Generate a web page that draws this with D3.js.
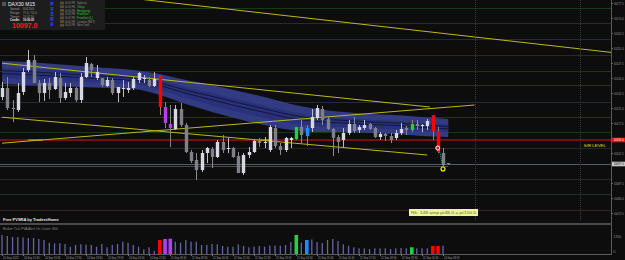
<!DOCTYPE html>
<html><head><meta charset="utf-8">
<script src="https://cdn.jsdelivr.net/npm/d3@7"></script>
<style>html,body{margin:0;padding:0;background:#0d0d0d;overflow:hidden}svg{display:block}text{font-family:"Liberation Sans",Arial,sans-serif}</style>
</head><body>
<svg id="c" width="625" height="260"></svg>
<script>
// ---------------- DATA ----------------
const opens = [10130.5,10135,10125,10124,10133,10144,10149,10137.5,10132.5,10137.5,
 10134.5,10140,10130,10132.5,10135,10129,10140.5,10147,10140,10140,
 10136,10139,10132.5,10134.5,10134,10135,10139,10139.5,10139,10136,
 10141.5,10125.5,10117,10114.5,10124.5,10116.5,10103,10099,10094,10102.5,
 10104.5,10100.5,10108,10104.5,10105,10101,10092.5,10101.5,10103,10108.5,
 10107.5,10104,10115,10106,10104,10109,10109.5,10115.5,10111,10115,
 10120,10124.5,10119.5,10114.5,10110.5,10109,10112.5,10117,10114,10115,
 10117,10115,10110.5,10112,10111,10110,10112.5,10115,10114,10117,
 10116,10116,10121.5,10113.5,10102.5,10097.5];
const highs = [10138,10140.5,10129,10137.5,10145,10154,10151.5,10139,10139.5,10140,
 10143,10142.5,10137.5,10137.5,10135.5,10142.5,10150.5,10147.5,10146.5,10140,
 10140.5,10140,10135.5,10139,10138,10140.5,10143,10141.5,10140.5,10143,
 10141.5,10128,10126.5,10126.5,10127.5,10117.5,10104,10102.5,10104,10105.5,
 10105.5,10109,10111.5,10110,10105.5,10103,10102.5,10105.5,10109,10110,
 10110.5,10116.5,10116.5,10107.5,10110.5,10110.5,10115.5,10119,10116.5,10124.5,
 10126.5,10126,10120.5,10115,10111.5,10115,10119,10120.5,10116.5,10119,
 10117.5,10115.5,10113,10112.5,10112.5,10114,10117.5,10116,10119,10119,
 10117,10119.5,10121.5,10115.5,10105,10097.5];
const lows = [10129,10124,10118,10123,10131.5,10143,10137.5,10128,10128.5,10129.5,
 10134,10127.5,10129,10130.5,10128,10127.5,10140,10140.5,10139,10135.5,
 10135.5,10131.5,10128,10130.5,10132.5,10134,10137.5,10137.5,10135.5,10135.5,
 10121.5,10115,10105.5,10114,10115.5,10102.5,10097.5,10089,10093,10097.5,
 10095,10100,10102.5,10102.5,10100,10092.5,10091.5,10100,10102.5,10105.5,
 10105,10103,10105,10101.5,10103,10105,10109,10107.5,10106,10113,
 10119,10116.5,10114,10101,10102.5,10105.5,10111.5,10112.5,10112.5,10114,
 10114,10110,10109,10108.5,10107.5,10109,10111.5,10111.5,10113,10114,
 10113,10114,10109,10102.5,10096,10096.5];
const closes = [10135,10125,10124.5,10132.5,10143,10149,10137.5,10132.5,10137.5,10134,
 10140.5,10130,10133,10135,10129,10140.5,10147.5,10144,10143,10136.5,
 10139,10132.5,10135.5,10135,10135,10139.5,10142.5,10140,10136,10139.5,
 10125.5,10117.5,10115,10124.5,10116.5,10103,10098.5,10094,10102.5,10105,
 10100.5,10108,10104,10105,10100.5,10092.5,10101.5,10103,10108.5,10107.5,
 10108,10115.5,10106,10104,10110,10110,10115.5,10111.5,10115,10120.5,
 10125,10119,10114.5,10110,10108,10112.5,10117,10113.5,10115.5,10116.5,
 10114.5,10110.5,10112,10111,10109,10112.5,10114.5,10114,10117,10116,
 10116.5,10118.5,10113.5,10103,10096.5,10097];
const volumes = [1900,1800,1700,1700,1650,1600,1600,1500,1400,1130,
 1070,1070,1000,730,900,970,930,900,730,1000,
 670,900,1000,1230,1130,900,730,470,670,300,
 1400,1500,1530,1230,1130,1400,1230,1230,900,900,
 1000,970,800,730,730,970,800,670,730,800,
 730,830,830,830,900,1200,1900,1130,1400,1450,
 1200,1100,1400,1500,1300,970,830,670,570,570,
 500,570,570,570,500,570,600,570,670,570,
 570,570,800,800,830,0];
// PVSRA candle classes (bar indices)
const climaxBear = [30,82,83];
const aboveAvgBear = [31,32];
const climaxBull = [56,78];
const aboveAvgBull = [58];
// Volume-weighted band (sampled every 5 bars)
const bandBars  = [0,5,10,15,20,25,30,35,40,45,50,55,60,65,70,75,80,85];
const bandUpper = [10148.5,10148,10147,10146,10145,10144,10142,10139,10136.5,10133.5,10130.5,10127,10124.5,10123,10122,10121.5,10120.5,10119.5];
const bandLower = [10137,10136.5,10136,10135.5,10135,10134.5,10131.5,10127,10123,10119.5,10116.5,10114,10113,10113,10112.5,10112,10111,10110.5];
// Trend lines: [bar1, price1, bar2, price2]
const trendLines = [
  [0,10187.2,116.2,10152.75],
  [0,10147.4,81.5,10125.5],
  [0,10107.4,90,10126.5],
  [0,10120.4,81,10101.5]
];
// Horizontal levels
const levelPrices = [10175,10167.5,10159.5,10151.5,10143.5,10136.5,10128,10120.5,10113,10105,10089.5,10082,10074];
const levelColors = ["#143a14","#2c2c26","#212b3b","#33271a","#143a14","#2f2f1a","#212b3b","#2f2f1a","#143a14","#262626","#262626","#143a14","#33271a"];
const srLevel = 10109;
const bidPrice = 10097.25;
const askLine = 10096;
const currentPrice = 10097.0;
const srHighlights = [[5,7.8],[49,51]];
// Axis ticks
const priceTicks = [10072.5,10080,10087.5,10095,10102.5,10110,10117.5,10125,10132.5,10140,10147.5,10155,10162.5,10170,10177.5];
const timeTickBars = [0,4,8,12,16,20,24,28,32,36,40,44,48,52,56,60,64,68,72,76,80,84];
const timeTickLabels = ["10 Sep 2015","10 Sep 15:30","10 Sep 16:30","10 Sep 17:30","10 Sep 18:30","10 Sep 19:30","10 Sep 20:30","10 Sep 21:30",
 "11 Sep 08:30","11 Sep 09:30","11 Sep 10:30","11 Sep 11:30","11 Sep 12:30","11 Sep 13:30","11 Sep 14:30","11 Sep 15:30",
 "11 Sep 16:30","11 Sep 17:30","11 Sep 18:30","11 Sep 19:30","11 Sep 20:30","14 Sep 08:30"];
// Info panel
const sessionNames = ["Sydney","Tokyo","Hongkong","Frankfurt","Frankfurt (L)","London (BST)","New York"];
const sessionOpen = [false,true,true,true,true,false,false];
const sessionTimes = ["06:45 PM","06:45 PM","06:45 PM","06:45 PM","06:45 PM","06:45 PM","06:45 PM"];
const infoLabels = ["Spread:","Range:","Timer:","Candle:"];
const infoValues = ["04.50","71.5 / 51.0","10:02.36","10:00:25"];

// ---------------- DRAW ----------------
const svg = d3.select("#c");
const y = d3.scaleLinear().domain([10068,10179]).range([222,0]);
const x = d3.scaleLinear().domain([0,85]).range([2,448.25]);
const vy = d3.scaleLinear().domain([0,2400]).range([254,230]);
const RIGHT = 611;
const fmt = d3.format(".1f");

svg.append("rect").attr("width",625).attr("height",260).attr("fill","#0d0d0d");
svg.append("defs").append("clipPath").attr("id","pc").append("rect").attr("x",0).attr("y",0).attr("width",RIGHT).attr("height",222);
const g = svg.append("g").attr("clip-path","url(#pc)");

// levels
g.selectAll("line.lvl").data(levelPrices).join("line").attr("class","lvl")
  .attr("x1",0).attr("x2",RIGHT).attr("y1",d=>Math.round(y(d))+0.5).attr("y2",d=>Math.round(y(d))+0.5)
  .attr("stroke",(d,i)=>levelColors[i]).attr("stroke-width",1);

// vertical dotted
[475,580].forEach(px=>{
  svg.append("line").attr("x1",px+0.5).attr("x2",px+0.5).attr("y1",0).attr("y2",222)
    .attr("stroke","#3a3a3a").attr("stroke-dasharray","1,1");
});

// band
const bandData = bandBars.map((b,i)=>({b,u:bandUpper[i],l:bandLower[i]}));
g.append("path").datum(bandData)
  .attr("d",d3.area().x(d=>x(d.b)).y0(d=>y(d.l)).y1(d=>y(d.u)).curve(d3.curveMonotoneX))
  .attr("fill","#36408f").attr("opacity",0.9);
g.append("path").datum(bandData)
  .attr("d",d3.area().x(d=>x(d.b)).y0(d=>y(d.l+(d.u-d.l)*0.25)).y1(d=>y(d.u-(d.u-d.l)*0.3)).curve(d3.curveMonotoneX))
  .attr("fill","#283078").attr("opacity",0.95);
[0.42,0.55].forEach(f=>{
  g.append("path").datum(bandData)
    .attr("d",d3.line().x(d=>x(d.b)).y(d=>y(d.u-(d.u-d.l)*f)).curve(d3.curveMonotoneX))
    .attr("fill","none").attr("stroke","#12163a").attr("stroke-width",1);
});

// S/R level
g.append("line").attr("x1",0).attr("x2",RIGHT).attr("y1",y(srLevel)).attr("y2",y(srLevel))
  .attr("stroke","#9a1212").attr("stroke-width",1.6);
g.selectAll("line.srh").data(srHighlights).join("line").attr("class","srh")
  .attr("x1",d=>x(d[0])).attr("x2",d=>x(d[1])).attr("y1",y(srLevel)).attr("y2",y(srLevel))
  .attr("stroke","#c87010").attr("stroke-width",1.6);

// bid/ask lines
g.append("line").attr("x1",0).attr("x2",RIGHT).attr("y1",Math.round(y(bidPrice))+0.5).attr("y2",Math.round(y(bidPrice))+0.5)
  .attr("stroke","#535a6a").attr("stroke-width",1);
g.append("line").attr("x1",0).attr("x2",x(85)).attr("y1",Math.round(y(askLine))+0.5).attr("y2",Math.round(y(askLine))+0.5)
  .attr("stroke","#4a4a4a").attr("stroke-width",1);

// trend lines
g.selectAll("line.tl").data(trendLines).join("line").attr("class","tl")
  .attr("x1",d=>x(d[0])).attr("y1",d=>y(d[1])).attr("x2",d=>x(d[2])).attr("y2",d=>y(d[3]))
  .attr("stroke","#bcb81c").attr("stroke-width",1);

// candles
const bars = opens.map((o,i)=>({i,o,h:highs[i],l:lows[i],c:closes[i]}));
const isCol = i => climaxBear.includes(i)||aboveAvgBear.includes(i)||climaxBull.includes(i)||aboveAvgBull.includes(i);
function bodyColor(d){
  if (climaxBear.includes(d.i)) return "#ff0000";
  if (aboveAvgBear.includes(d.i)) return "#b040f0";
  if (climaxBull.includes(d.i)) return "#22d040";
  if (aboveAvgBull.includes(d.i)) return "#1e8cff";
  return d.c>=d.o ? "#d8d8e2" : "#808088";
}
function wickColor(d){
  if (isCol(d.i)) return "#858585";
  return d.c>=d.o ? "#bcbcc4" : "#8c8c90";
}
const cg = g.append("g");
cg.selectAll("line.wk").data(bars).join("line").attr("class","wk")
  .attr("x1",d=>Math.round(x(d.i))+0.5).attr("x2",d=>Math.round(x(d.i))+0.5)
  .attr("y1",d=>y(d.h)).attr("y2",d=>y(d.l)).attr("stroke",wickColor).attr("stroke-width",1);
cg.selectAll("rect.bd").data(bars).join("rect").attr("class","bd")
  .attr("x",d=>Math.round(x(d.i))-1.2).attr("width",3.4)
  .attr("y",d=>y(Math.max(d.o,d.c))).attr("height",d=>Math.max(1,Math.abs(y(d.o)-y(d.c))))
  .attr("fill",bodyColor);

// markers at last bars
g.append("line").attr("x1",x(83.3)).attr("y1",y(10104)).attr("x2",x(84)).attr("y2",y(10095.5))
  .attr("stroke","#3fb7c0").attr("stroke-dasharray","1,1");
g.append("circle").attr("cx",x(83)).attr("cy",y(10105)).attr("r",2).attr("fill","#d02020").attr("stroke","#ffffff").attr("stroke-width",1);
g.append("circle").attr("cx",x(84)).attr("cy",y(10094.5)).attr("r",2).attr("fill","none").attr("stroke","#ffff00").attr("stroke-width",1.1);

// S/R LEVEL text
svg.append("text").attr("x",606).attr("y",y(srLevel)+7).attr("text-anchor","end")
  .attr("font-size",4.4).attr("fill","#e0e000").text("S/R LEVEL");

// tooltip box
svg.append("rect").attr("x",409).attr("y",209).attr("width",69).attr("height",7).attr("fill","#f4f0a0");
svg.append("text").attr("x",411).attr("y",214.2).attr("font-size",3.6).attr("fill","#3a7a3a")
  .attr("textLength",65).attr("lengthAdjust","spacingAndGlyphs")
  .text("Rk: 148 amp pt48.0 = pt150.0");

// price axis
svg.append("line").attr("x1",RIGHT+0.5).attr("x2",RIGHT+0.5).attr("y1",0).attr("y2",255).attr("stroke","#5a5a5a");
const shownTicks = priceTicks.filter(t=>Math.abs(y(t)-y(srLevel))>5 && Math.abs(y(t)-y(currentPrice))>5);
const ay = svg.append("g").attr("transform",`translate(${RIGHT+0.5},0)`)
  .call(d3.axisRight(y).tickValues(shownTicks).tickFormat(fmt).tickSize(1.5));
ay.select(".domain").remove();
ay.selectAll("line").attr("stroke","#666");
ay.selectAll("text").attr("font-size",3.4).attr("fill","#9a9a9a").attr("x",2.2)
  .attr("textLength",10).attr("lengthAdjust","spacingAndGlyphs");
// price labels
svg.append("rect").attr("x",RIGHT+1).attr("y",y(srLevel)-2.3).attr("width",13.5).attr("height",4.6).attr("fill","#ee1010");
svg.append("text").attr("x",RIGHT+2.7).attr("y",y(srLevel)+1.3).attr("font-size",3.4).attr("fill","#fff")
  .attr("textLength",10).attr("lengthAdjust","spacingAndGlyphs").text(fmt(srLevel));
svg.append("rect").attr("x",RIGHT+1).attr("y",y(currentPrice)-2.3).attr("width",13.5).attr("height",4.6).attr("fill","#c8c8c8");
svg.append("text").attr("x",RIGHT+2.7).attr("y",y(currentPrice)+1.3).attr("font-size",3.4).attr("fill","#111")
  .attr("textLength",10).attr("lengthAdjust","spacingAndGlyphs").text(fmt(currentPrice));

// panel separator
svg.append("rect").attr("x",0).attr("y",223).attr("width",RIGHT+1).attr("height",2).attr("fill","#4a4a4a");
svg.append("text").attr("x",3).attr("y",221).attr("font-size",4).attr("font-weight","bold").attr("fill","#e8e8e8").text("Free PVSRA by TradersHome");
svg.append("text").attr("x",3).attr("y",230).attr("font-size",3.4).attr("fill","#8a8a8a").text("Broker Tick PVA    Alert On    Count: 800");

// volumes
function volColor(i){
  if (climaxBear.includes(i)) return "#ff0000";
  if (aboveAvgBear.includes(i)) return "#b040f0";
  if (climaxBull.includes(i)) return "#22d040";
  if (aboveAvgBull.includes(i)) return "#1e8cff";
  return "#6464a6";
}
svg.selectAll("rect.vol").data(volumes).join("rect").attr("class","vol")
  .attr("x",(d,i)=>isCol(i)?x(i)-1.5:x(i)-0.6).attr("width",(d,i)=>isCol(i)?3.6:1.3)
  .attr("y",d=>vy(d)).attr("height",d=>vy(0)-vy(d)).attr("fill",(d,i)=>volColor(i));
svg.append("text").attr("x",RIGHT+2.5).attr("y",238).attr("font-size",3.4).attr("fill","#9a9a9a").text("1700");
svg.append("text").attr("x",RIGHT+2.5).attr("y",253).attr("font-size",3.4).attr("fill","#9a9a9a").text("0");

// time axis
const ax = svg.append("g").attr("transform","translate(0,254.5)")
  .call(d3.axisBottom(x).tickValues(timeTickBars).tickFormat((d,i)=>timeTickLabels[i]).tickSize(1.5));
ax.select(".domain").attr("stroke","#5a5a5a").attr("d","M0,0H"+(RIGHT+1));
ax.selectAll("line").attr("stroke","#777");
ax.selectAll("text").attr("font-size",3.3).attr("fill","#9a9a9a").attr("text-anchor","start").attr("x",0.5).attr("y",4.6).attr("dy",0)
  .attr("textLength",15.5).attr("lengthAdjust","spacingAndGlyphs");

// info panel
const ip = svg.append("g");
ip.append("rect").attr("x",0).attr("y",0).attr("width",105).attr("height",30).attr("fill","#1d1d1d");
ip.append("rect").attr("x",2).attr("y",2).attr("width",4).attr("height",4).attr("fill","#555");
ip.append("text").attr("x",8).attr("y",6.2).attr("font-size",5).attr("fill","#f0f0f0").text("DAX30  M15");
ip.selectAll("text.il").data(infoLabels).join("text").attr("class","il")
  .attr("x",10).attr("y",(d,i)=>10+i*3.8).attr("font-size",3.1)
  .attr("fill",(d,i)=>i===3?"#e8e8e8":"#9a9a9a").attr("font-weight",(d,i)=>i===3?"bold":"normal")
  .attr("textLength",10).attr("lengthAdjust","spacingAndGlyphs").text(d=>d);
ip.selectAll("text.iv").data(infoValues).join("text").attr("class","iv")
  .attr("x",23).attr("y",(d,i)=>10+i*3.8).attr("font-size",3.1)
  .attr("fill",(d,i)=>i===3?"#e8e8e8":"#9a9a9a").attr("font-weight",(d,i)=>i===3?"bold":"normal")
  .attr("textLength",(d,i)=>i===1?14:11).attr("lengthAdjust","spacingAndGlyphs").text(d=>d);
ip.append("text").attr("x",12).attr("y",28.3).attr("font-size",7).attr("font-weight","bold").attr("fill","#ff1a1a")
  .text(fmt(currentPrice));
ip.selectAll("text.pv").data("PVSRA".split("")).join("text").attr("class","pv")
  .attr("x",52).attr("y",(d,i)=>6+i*5).attr("font-size",4.6).attr("font-weight","bold")
  .attr("text-anchor","middle").attr("fill","#2e54ff").text(d=>d);
ip.selectAll("rect.st").data(sessionTimes).join("rect").attr("class","st")
  .attr("x",60).attr("y",(d,i)=>1.6+i*3.7).attr("width",4).attr("height",2.8).attr("fill","#5a4a30");
ip.selectAll("text.stt").data(sessionTimes).join("text").attr("class","stt")
  .attr("x",65).attr("y",(d,i)=>4.1+i*3.7).attr("font-size",2.9).attr("fill","#8a8a8a")
  .attr("textLength",10).attr("lengthAdjust","spacingAndGlyphs").text(d=>d);
ip.selectAll("text.sn").data(sessionNames).join("text").attr("class","sn")
  .attr("x",77).attr("y",(d,i)=>4.1+i*3.7).attr("font-size",2.9)
  .attr("fill",(d,i)=>sessionOpen[i]?"#2ec82e":"#8a8a8a").text(d=>d);
</script>
</body></html>
